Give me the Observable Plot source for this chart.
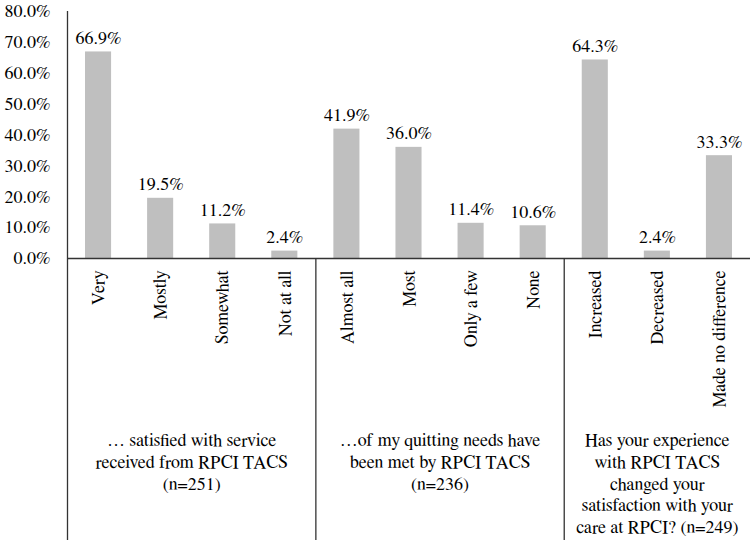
<!DOCTYPE html>
<html><head><meta charset="utf-8">
<script src="https://cdn.jsdelivr.net/npm/d3@7"></script>
<script src="https://cdn.jsdelivr.net/npm/@observablehq/plot@0.6"></script>
<style>body{margin:0;background:#fff}#chart svg{display:block}</style>
</head><body><div id="chart"></div>
<script>
const categories = ["Very","Mostly","Somewhat","Not at all","Almost all","Most","Only a few","None","Increased","Decreased","Made no difference"];
const values = [66.9,19.5,11.2,2.4,41.9,36.0,11.4,10.6,64.3,2.4,33.3];
const groupOf = [0,0,0,0,1,1,1,1,2,2,2];
const groupLabels = [
  "… satisfied with service\nreceived from RPCI TACS\n(n=251)",
  "…of my quitting needs have\nbeen met by RPCI TACS\n(n=236)",
  "Has your experience\nwith RPCI TACS\nchanged your\nsatisfaction with your\ncare at RPCI? (n=249)"
];
const yTicks = [0,10,20,30,40,50,60,70,80];

const bars = categories.map((c, i) => ({c, i, v: values[i], g: groupOf[i]}));
const groups = groupLabels.map((label, g) => {
  const idx = bars.filter(b => b.g === g).map(b => b.i);
  return {label, center: d3.mean(idx), start: d3.min(idx) - 0.5};
});
const separators = groups.slice(1).map(g => g.start);
const font = "FreeSerif, 'Liberation Serif', serif";
const fs = 18;

const chart = Plot.plot({
  width: 752,
  height: 540,
  marginLeft: 67,
  marginRight: 2,
  marginTop: 11,
  marginBottom: 282,
  style: {fontFamily: font, fontSize: fs + "px", color: "#000", background: "#fff"},
  x: {domain: [-0.5, categories.length - 0.5], axis: null},
  y: {domain: [0, 80], axis: null},
  marks: [
    Plot.rectY(bars, {x1: d => d.i - 0.21, x2: d => d.i + 0.21, y1: 0, y2: "v", fill: "#bfbfbf"}),
    Plot.text(yTicks, {x: -0.5, y: d => d, text: d => d.toFixed(1) + "%", textAnchor: "end", dx: -17, fontSize: fs, fill: "#000", fontFamily: font}),
    Plot.ruleY([0], {stroke: "#333", strokeWidth: 1.3}),
    Plot.ruleX([-0.5], {stroke: "#333", strokeWidth: 1.3, insetBottom: -282}),
    Plot.ruleX(separators, {y1: 0, y2: 0, stroke: "#333", strokeWidth: 1.3, insetBottom: -282}),
    Plot.text(bars, {x: "i", y: "v", text: d => d.v.toFixed(1) + "%", lineAnchor: "bottom", dy: -8, fontSize: fs, fill: "#000", fontFamily: font}),
    Plot.text(bars, {x: "i", y: 0, text: "c", rotate: -90, textAnchor: "end", dy: 12, fontSize: fs, fill: "#000", fontFamily: font}),
    Plot.text(groups, {x: "center", y: 0, text: "label", lineAnchor: "top", dy: 172, lineHeight: 1.21, fontSize: fs, fill: "#000", fontFamily: font})
  ]
});
document.getElementById("chart").appendChild(chart);
</script>
</body></html>
